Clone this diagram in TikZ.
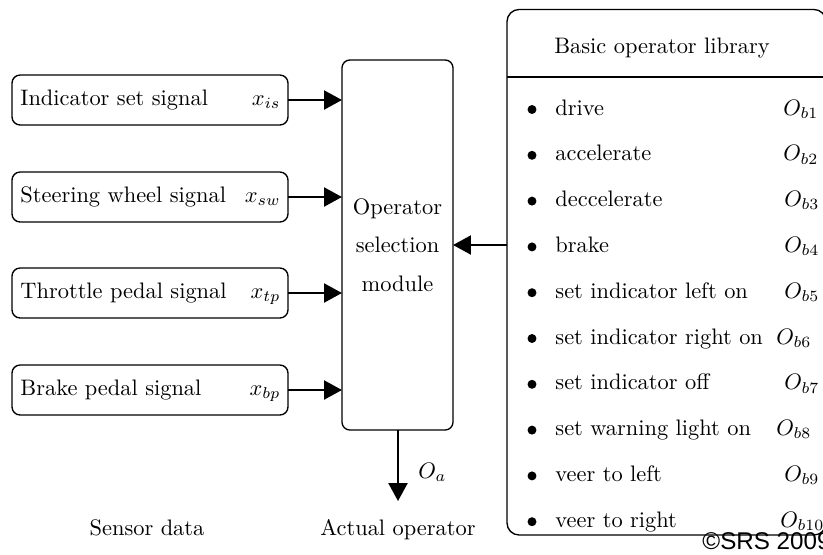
\documentclass[tikz,border=0pt]{standalone}
\usepackage{fontspec}
\newfontfamily\srsfont{Liberation Sans}
\usetikzlibrary{arrows.meta,calc}
\begin{document}
\begin{tikzpicture}[x=0.4464pt,y=-0.4464pt,
  sigbox/.style={draw, line width=0.6pt, rounded corners=3.6pt, minimum width=123.2pt, minimum height=22.3pt, inner sep=0pt, outer sep=0pt},
  modbox/.style={draw, line width=0.6pt, rounded corners=3.6pt, minimum width=49.6pt, minimum height=165.2pt, inner sep=0pt, outer sep=0pt, align=center},
  libbox/.style={draw, line width=0.6pt, rounded corners=5.4pt, minimum width=142.4pt, minimum height=234.6pt, inner sep=0pt, outer sep=0pt},
  lbl/.style={inner sep=0pt, anchor=base west},
  sub/.style={inner sep=0pt, anchor=base east},
  itm/.style={inner sep=0pt, anchor=base west},
  oname/.style={inner sep=0pt, anchor=base west},
  conn/.style={line width=0.9pt, -{Triangle[length=8pt,width=8.5pt]}},
  dot/.style={circle, fill=black, inner sep=0pt, minimum size=4pt}
]
\useasboundingbox (0,0) rectangle (823,554);

% signal boxes
\node[sigbox] (s1) at (150,100) {};
\node[sigbox] (s2) at (150,197) {};
\node[sigbox] (s3) at (150,293) {};
\node[sigbox] (s4) at (150,390) {};
\node[lbl] (t1) at (20,105.5) {Indicator set signal};
\node[lbl] (t2) at (20,202.5) {Steering wheel signal};
\node[lbl] (t3) at (20,298.5) {Throttle pedal signal};
\node[lbl] (t4) at (20,395.5) {Brake pedal signal};
\node[sub] (x1) at (281,105.5) {$x_{is}$};
\node[sub] (x2) at (281,202.5) {$x_{sw}$};
\node[sub] (x3) at (281,298.5) {$x_{tp}$};
\node[sub] (x4) at (281,395.5) {$x_{bp}$};

% module
\node[modbox] (mod) at (397.5,245) {Operator\\[5.2pt]selection\\[5.2pt]module};

\foreach \i in {1,2,3,4}{
  \draw[conn] (s\i.east) -- (s\i.east -| mod.west);
}

% output
\coordinate (oa) at (398,501);
\draw[conn] (mod.south -| oa) -- (oa);
\node[lbl] (oalbl) at (418,478) {$O_a$};
\node[inner sep=0pt, anchor=base] (sens) at (147,535) {Sensor data};
\node[inner sep=0pt, anchor=base] (act) at (398,535) {Actual operator};

% library
\node[libbox] (lib) at (666.5,272.25) {};
\draw[line width=0.9pt] (lib.west |- 0,77) -- (lib.east |- 0,77);
\node[inner sep=0pt, anchor=base] (libtitle) at (662,53) {Basic operator library};
\draw[conn] (lib.west |- mod.east) -- (mod.east);

\foreach \i/\t/\ox in {1/drive/783, 2/accelerate/783, 3/deccelerate/784, 4/brake/784,
  5/set indicator left on/784, 6/set indicator right on/776, 7/set indicator off/784,
  8/set warning light on/776, 9/veer to left/784, 10/veer to right/780}{
  \pgfmathsetmacro{\yb}{115+45.8*(\i-1)}
  \node[dot] (b\i) at (532,\yb-5.5) {};
  \node[itm] (it\i) at (555,\yb) {\t};
  \node[oname] (o\i) at (\ox,\yb) {$O_{b\i}$};
}

\node[inner sep=0pt, anchor=base west] (srs) at (702,549) {\srsfont\fontsize{10.8pt}{12pt}\selectfont ©SRS 2009};
\end{tikzpicture}
\end{document}
